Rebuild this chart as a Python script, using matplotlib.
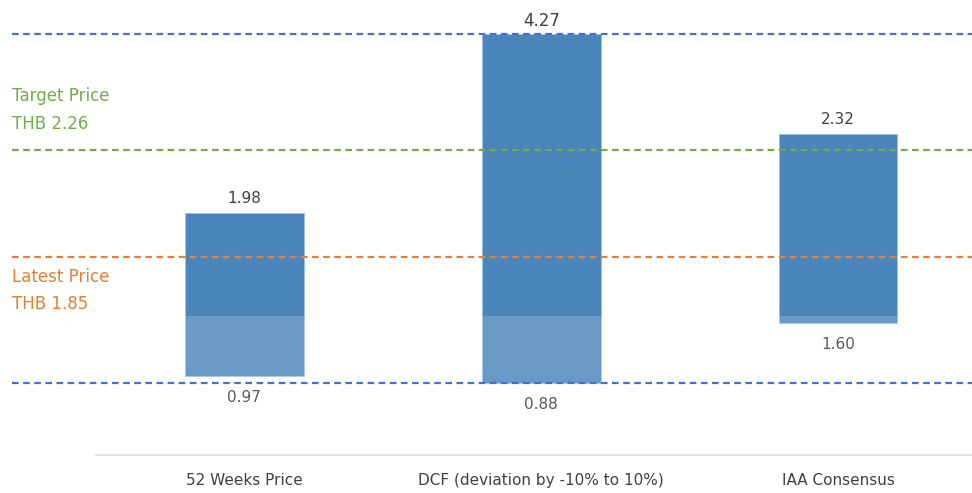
import numpy as np
import matplotlib.pyplot as plt
from matplotlib.patches import Rectangle

# data
categories = ['52 Weeks Price', 'DCF (deviation by -10% to 10%)', 'IAA Consensus']
low = [0.97, 0.88, 1.60]
high = [1.98, 4.27, 2.32]
target_price = 2.26
latest_price = 1.85

# the source chart is not drawn to scale, so use a piecewise display scale
scale_vals = [0.0, 0.88, 0.97, 1.60, 1.85, 1.98, 2.26, 2.32, 4.27, 4.60]
scale_pos = [0, 72, 79, 132, 198, 242, 305, 321, 421, 455]

def fwd(v):
    return np.interp(v, scale_vals, scale_pos)

def inv(p):
    return np.interp(p, scale_pos, scale_vals)

bar_c = '#4B86BB'
blue_l = '#4472C4'
green = '#70AD47'
orange = '#ED7D31'
txt = '#404040'

fig = plt.figure(figsize=(9.72, 4.93), dpi=100)
ax = fig.add_axes([0.0123, 0.077, 0.9877, 0.923])
ax.set_yscale('function', functions=(fwd, inv))
ax.set_ylim(0, 4.6)
ax.set_xlim(-0.783, 2.451)

x = np.arange(len(categories))
ax.bar(x, np.array(high) - np.array(low), bottom=low, width=0.40,
       color=bar_c, edgecolor='#9CC0E0', linewidth=0.6, zorder=2)

# pale band from the watermark over the lower part
ax.add_patch(Rectangle((0, 0), 1, 139 / 455, transform=ax.transAxes,
                       facecolor='white', alpha=0.17, edgecolor='none', zorder=3))

dash = (0, (3, 2))
ax.axhline(max(high), color=blue_l, lw=1.6, ls=dash, zorder=4)
ax.axhline(min(low), color=blue_l, lw=1.6, ls=dash, zorder=4)
ax.axhline(target_price, color=green, lw=1.6, ls=dash, zorder=4)
ax.axhline(latest_price, color=orange, lw=1.6, ls=dash, zorder=4)

for i in range(len(categories)):
    big = high[i] == max(high)
    ax.annotate(f'{high[i]:.2f}', (x[i], high[i]), xytext=(0, 3 if big else 5),
                textcoords='offset points', ha='center', va='bottom',
                fontsize=12 if big else 11, color=txt)
    ax.annotate(f'{low[i]:.2f}', (x[i], low[i]), xytext=(0, -10),
                textcoords='offset points', ha='center', va='top',
                fontsize=11, color='#595959')

ax.annotate(f'Target Price\nTHB {target_price:.2f}', (0, target_price),
            xycoords=('axes fraction', 'data'), xytext=(0, 12),
            textcoords='offset points', ha='left', va='bottom',
            fontsize=12, color=green, linespacing=1.75)
ax.annotate(f'Latest Price\nTHB {latest_price:.2f}', (0, latest_price),
            xycoords=('axes fraction', 'data'), xytext=(0, -8),
            textcoords='offset points', ha='left', va='top',
            fontsize=12, color=orange, linespacing=1.6)

ax.set_xticks(x)
ax.set_xticklabels(categories, fontsize=11, color=txt)
ax.tick_params(axis='x', length=0, pad=13)
ax.set_yticks([])
ax.yaxis.set_minor_locator(plt.NullLocator())
for s in ['top', 'left', 'right']:
    ax.spines[s].set_visible(False)
ax.spines['bottom'].set_color('#D9D9D9')
ax.spines['bottom'].set_linewidth(1.2)
ax.spines['bottom'].set_bounds(-0.5, 2.451)

fig.savefig('out.png', dpi=100)
